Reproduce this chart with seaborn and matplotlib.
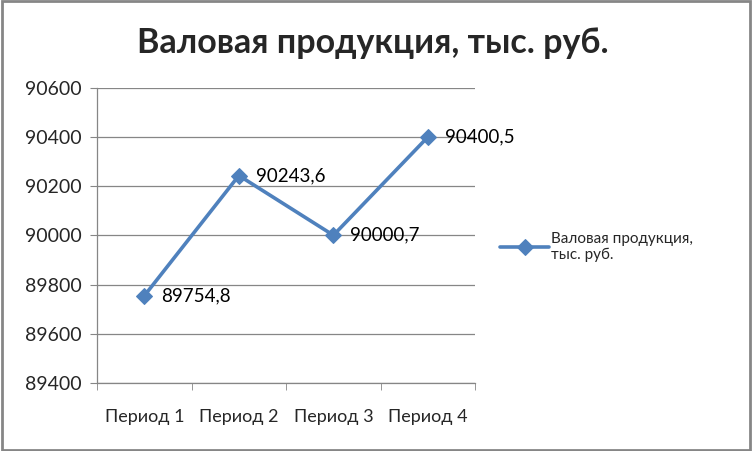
import matplotlib
matplotlib.use("Agg")
import pandas as pd
import seaborn as sns
import matplotlib.pyplot as plt
from matplotlib.patches import Rectangle

periods = ["Период 1", "Период 2", "Период 3", "Период 4"]
values = [89754.8, 90243.6, 90000.7, 90400.5]
labels = ["89754,8", "90243,6", "90000,7", "90400,5"]
series_name = "Валовая продукция,\nтыс. руб."

df = pd.DataFrame({"period": periods, "value": values})

sns.set_style("white")
plt.rcParams["font.family"] = ["Lato", "DejaVu Sans"]

fig = plt.figure(figsize=(7.53, 4.51), dpi=100)
ax = fig.add_axes([0.129, 0.151, 0.502, 0.654])

blue = "#4F81BD"
sns.lineplot(data=df, x="period", y="value", ax=ax, color=blue, linewidth=2.6,
             marker="D", markersize=8, markeredgecolor=blue, label=series_name)

for i, (v, t) in enumerate(zip(values, labels)):
    ax.annotate(t, (i, v), xytext=(12, 0), textcoords="offset points",
                va="center", ha="left", fontsize=13.5, color="black")

ax.set_ylim(89400, 90600)
ax.set_yticks(range(89400, 90601, 200))
ax.set_xlim(-0.5, 3.5)
ax.yaxis.grid(True, color="#868686", linewidth=0.9)
ax.set_axisbelow(True)
ax.set_xlabel("")
ax.set_ylabel("")

for s in ["top", "right"]:
    ax.spines[s].set_visible(False)
for s in ["left", "bottom"]:
    ax.spines[s].set_color("#868686")
    ax.spines[s].set_linewidth(0.9)

ax.tick_params(axis="y", left=True, length=5, color="#868686", labelsize=14, pad=6)
ax.set_xticks([0, 1, 2, 3])
ax.set_xticklabels(periods)
ax.tick_params(axis="x", bottom=False, labelsize=13, pad=15)
ax.set_xticks([-0.5, 0.5, 1.5, 2.5, 3.5], minor=True)
ax.tick_params(axis="x", which="minor", bottom=True, length=5, color="#868686")

fig.suptitle("Валовая продукция, тыс. руб.", x=0.495, y=0.94,
             fontsize=24.5, fontweight="bold")

leg = ax.legend(loc="center left", bbox_to_anchor=(1.03, 0.46), frameon=False,
                fontsize=11, handlelength=3.2, handletextpad=0.1)

fig.patches.append(Rectangle((0.002, 0.003), 0.994, 0.994, transform=fig.transFigure,
                             fill=False, edgecolor="#868686", linewidth=2))

fig.savefig("out.png", dpi=100)
